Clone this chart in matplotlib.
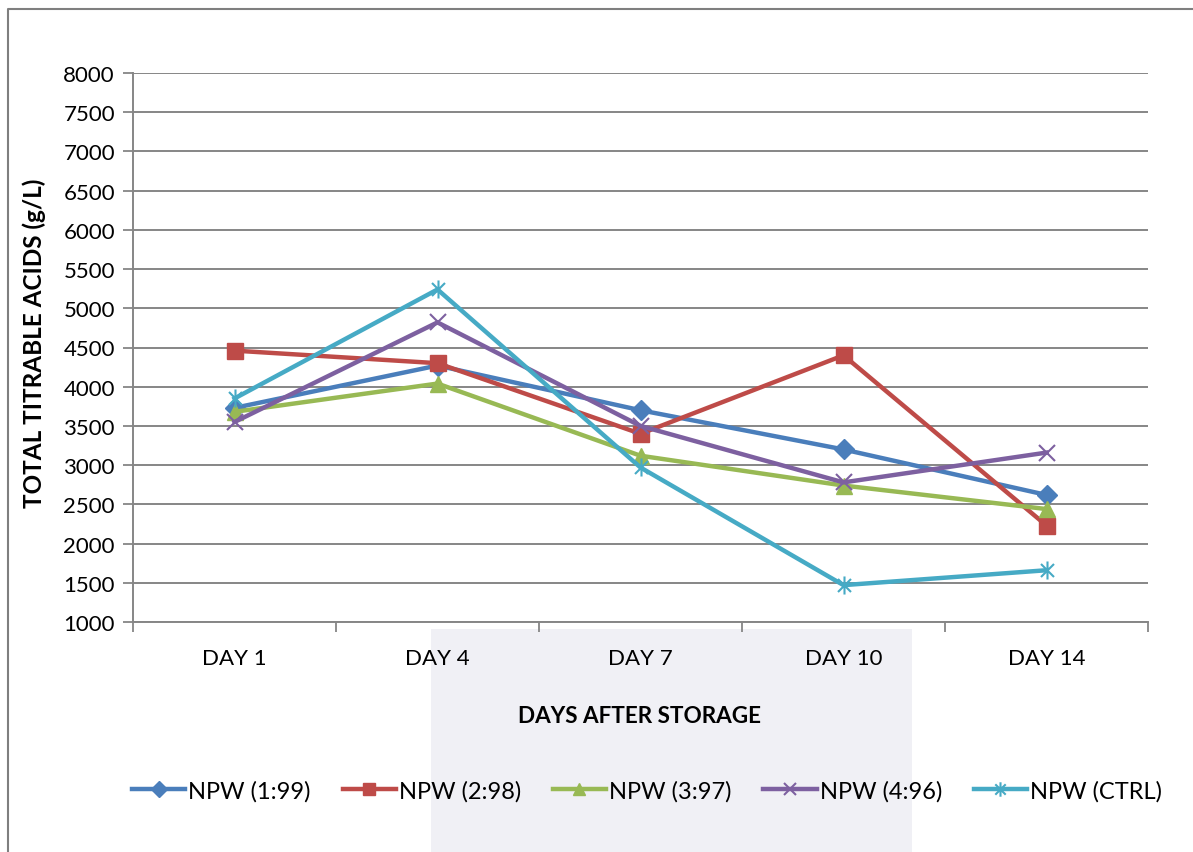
import matplotlib.pyplot as plt
from matplotlib.path import Path
from matplotlib.lines import Line2D
from matplotlib.patches import Rectangle

plt.rcParams['font.family'] = ['Lato', 'DejaVu Sans']

days = ['DAY 1', 'DAY 4', 'DAY 7', 'DAY 10', 'DAY 14']
npw_1_99 = [3730, 4270, 3700, 3200, 2620]
npw_2_98 = [4460, 4300, 3400, 4400, 2230]
npw_3_97 = [3680, 4040, 3120, 2740, 2440]
npw_4_96 = [3550, 4820, 3500, 2780, 3160]
npw_ctrl = [3850, 5240, 2970, 1470, 1660]

labels = ['NPW (1:99)', 'NPW (2:98)', 'NPW (3:97)', 'NPW (4:96)', 'NPW (CTRL)']
colors = ['#4a7ebb', '#be4b48', '#98b954', '#7d60a0', '#46aac5']

# asterisk: vertical stroke plus an x
star = Path([(0, -1), (0, 1), (-0.72, -0.72), (0.72, 0.72), (-0.72, 0.72), (0.72, -0.72)],
            [Path.MOVETO, Path.LINETO, Path.MOVETO, Path.LINETO, Path.MOVETO, Path.LINETO])
markers = ['D', 's', '^', 'x', star]
msizes = [10, 11, 11, 11, 13]

fig = plt.figure(figsize=(11.93, 8.53), dpi=100)

# faint backdrop block behind the lower middle
fig.patches.append(Rectangle((431 / 1193, 0), 481 / 1193, 223 / 853, transform=fig.transFigure,
                             facecolor='#f0f0f5', edgecolor='none', zorder=-5))
# outer chart frame (left and top edges)
fig.lines.append(Line2D([8 / 1193, 8 / 1193, 1.0], [0, 1 - 10 / 853, 1 - 10 / 853],
                        transform=fig.transFigure, color='#7f7f7f', lw=1.5))

ax = fig.add_axes([133 / 1193, 1 - 623 / 853, (1148 - 133) / 1193, (623 - 74) / 853])
ax.patch.set_alpha(0)

x = list(range(len(days)))
series = [npw_1_99, npw_2_98, npw_3_97, npw_4_96, npw_ctrl]
for vals, lab, c, m, ms in zip(series, labels, colors, markers, msizes):
    mew = 1.5 if m in ('x', star) else 1
    ax.plot(x, vals, color=c, lw=3.2, marker=m, markersize=ms, markeredgewidth=mew,
            markerfacecolor=c, markeredgecolor=c, label=lab, zorder=3)

ax.set_xlim(-0.5, 4.5)
ax.set_ylim(1000, 8000)
ax.set_yticks(range(1000, 8001, 500))
ax.set_xticks(x)
ax.set_xticklabels(days)
ax.set_xticks([i - 0.5 for i in range(6)], minor=True)
ax.tick_params(axis='x', which='major', length=0, pad=19, labelsize=16)
ax.tick_params(axis='x', which='minor', length=7, width=1.3, color='#868686', direction='out')
ax.tick_params(axis='y', length=7, width=1.3, color='#868686', pad=6, labelsize=16)

ax.grid(axis='y', color='#868686', lw=1.4)
ax.set_axisbelow(True)
for s in ['top', 'right']:
    ax.spines[s].set_visible(False)
for s in ['left', 'bottom']:
    ax.spines[s].set_color('#868686')
    ax.spines[s].set_linewidth(1.4)

ax.set_ylabel('TOTAL TITRABLE ACIDS (g/L)', fontsize=17.5, fontweight='bold')
ax.yaxis.set_label_coords(-0.086, 0.51)
fig.text(640 / 1193, 1 - 717 / 853, 'DAYS AFTER STORAGE', fontsize=16.2, fontweight='bold',
         ha='center', va='center')

fig.legend(loc='center', bbox_to_anchor=(647 / 1193, 1 - 792 / 853), ncol=5, frameon=False,
           fontsize=17, handlelength=2.25, handletextpad=0.13, columnspacing=1.35,
           markerscale=0.8)

fig.savefig('out.png', dpi=100)
